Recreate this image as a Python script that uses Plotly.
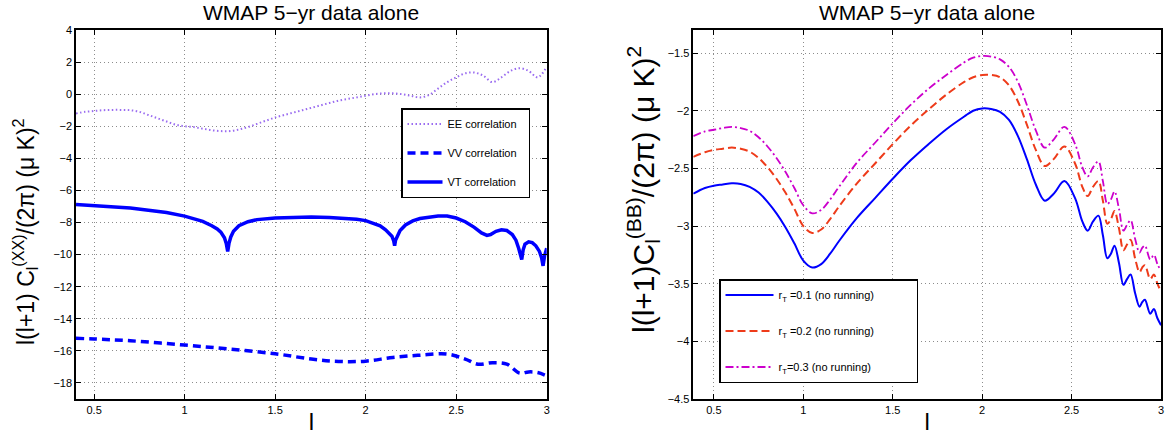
import plotly.graph_objects as go

# ---------------- data: left panel ----------------
ee_x = [0.40, 0.45, 0.5, 0.55, 0.6, 0.65, 0.7, 0.75, 0.8, 0.85, 0.9, 0.95, 1.0, 1.05, 1.1, 1.15,
        1.2, 1.25, 1.3, 1.35, 1.4, 1.45, 1.5, 1.55, 1.6, 1.65, 1.7, 1.75, 1.8, 1.85, 1.9, 1.95,
        2.0, 2.05, 2.1, 2.15, 2.2, 2.25, 2.3, 2.35, 2.4, 2.45, 2.5, 2.55, 2.6, 2.65, 2.7, 2.75,
        2.8, 2.85, 2.9, 2.95, 3.0]
ee_y = [-1.2, -1.1, -1.05, -1.0, -0.98, -0.98, -1.0, -1.1, -1.3, -1.5, -1.7, -1.9, -2.0, -2.05,
        -2.15, -2.25, -2.3, -2.3, -2.2, -2.05, -1.85, -1.65, -1.45, -1.3, -1.15, -1.0, -0.85, -0.7,
        -0.55, -0.4, -0.3, -0.2, -0.1, 0.0, 0.05, 0.05, 0.0, -0.1, -0.2, -0.05, 0.35, 0.75, 1.05,
        1.3, 1.35, 1.15, 0.75, 1.05, 1.45, 1.62, 1.45, 1.05, 1.7]

vv_x = [0.40, 0.5, 0.7, 1.0, 1.25, 1.5, 1.7, 1.85, 2.0, 2.15, 2.3, 2.45, 2.55, 2.62, 2.7, 2.78,
        2.85, 2.9, 2.95, 3.0]
vv_y = [-15.22, -15.26, -15.37, -15.64, -15.89, -16.18, -16.51, -16.66, -16.64, -16.41, -16.27,
        -16.2, -16.51, -16.83, -16.74, -16.83, -17.39, -17.31, -17.35, -17.56]

vt_x = [0.40, 0.5, 0.6, 0.7, 0.8, 0.9, 1.0, 1.05, 1.1, 1.15, 1.18, 1.2, 1.22, 1.23, 1.238, 1.245,
        1.255, 1.27, 1.3, 1.35, 1.4, 1.5, 1.6, 1.7, 1.8, 1.9, 1.95, 2.0, 2.05, 2.08, 2.11, 2.13,
        2.145, 2.155, 2.16, 2.165, 2.175, 2.19, 2.22, 2.26, 2.3, 2.35, 2.4, 2.45, 2.5, 2.55, 2.6,
        2.64, 2.67, 2.69, 2.72, 2.75, 2.78, 2.81, 2.83, 2.845, 2.855, 2.862, 2.87, 2.88, 2.9,
        2.92, 2.94, 2.96, 2.972, 2.98, 2.988, 3.0]
vt_y = [-6.87, -6.93, -7.0, -7.1, -7.24, -7.38, -7.6, -7.75, -7.93, -8.2, -8.4, -8.6, -8.95, -9.3,
        -9.8, -9.3, -8.9, -8.55, -8.2, -7.95, -7.82, -7.72, -7.67, -7.65, -7.68, -7.75, -7.8,
        -7.88, -8.05, -8.2, -8.45, -8.7, -8.85, -9.15, -9.45, -9.1, -8.8, -8.5, -8.15, -7.9,
        -7.75, -7.65, -7.6, -7.6, -7.72, -7.95, -8.3, -8.65, -8.8, -8.75, -8.55, -8.45, -8.5,
        -8.75, -9.1, -9.6, -10.1, -10.3, -9.7, -9.35, -9.2, -9.25, -9.45, -9.8, -10.2, -10.7,
        -10.1, -9.6]

# ---------------- data: right panel ----------------
bb_x = [0.385, 0.45, 0.5, 0.55, 0.6, 0.65, 0.7, 0.75, 0.8, 0.85, 0.9, 0.95, 1.0, 1.05, 1.1, 1.15,
        1.2, 1.3, 1.4, 1.5, 1.6, 1.7, 1.8, 1.9, 1.95, 2.0, 2.05, 2.1, 2.15, 2.2, 2.25, 2.3, 2.35,
        2.4, 2.46, 2.52, 2.56, 2.59, 2.62, 2.65, 2.675, 2.70, 2.72, 2.74, 2.765, 2.79, 2.81, 2.83,
        2.855, 2.88, 2.895, 2.91, 2.94, 2.96, 2.98, 3.0]
bb_r01 = [-2.72, -2.67, -2.65, -2.64, -2.63, -2.635, -2.66, -2.71, -2.79, -2.89, -3.01, -3.15,
          -3.30, -3.36, -3.33, -3.24, -3.13, -2.93, -2.76, -2.59, -2.43, -2.29, -2.16, -2.05,
          -2.0, -1.98, -1.985, -2.01, -2.08, -2.22, -2.42, -2.64, -2.78, -2.72, -2.61, -2.76,
          -2.96, -3.04, -2.96, -2.91, -3.08, -3.28, -3.24, -3.17, -3.32, -3.51, -3.46, -3.42,
          -3.58, -3.70, -3.66, -3.64, -3.76, -3.72, -3.80, -3.86]
bb_r02 = [-2.40, -2.36, -2.34, -2.33, -2.32, -2.33, -2.355, -2.41, -2.49, -2.59, -2.71, -2.85,
          -3.00, -3.06, -3.03, -2.94, -2.83, -2.63, -2.46, -2.29, -2.13, -1.99, -1.86, -1.75,
          -1.71, -1.69, -1.69, -1.71, -1.78, -1.92, -2.12, -2.34, -2.48, -2.42, -2.31, -2.46,
          -2.66, -2.74, -2.66, -2.61, -2.78, -2.98, -2.94, -2.87, -3.02, -3.21, -3.16, -3.12,
          -3.28, -3.40, -3.36, -3.34, -3.46, -3.42, -3.50, -3.57]
bb_r03 = [-2.22, -2.18, -2.165, -2.15, -2.14, -2.15, -2.175, -2.23, -2.31, -2.41, -2.53, -2.67,
          -2.82, -2.89, -2.86, -2.77, -2.66, -2.45, -2.28, -2.11, -1.95, -1.81, -1.69, -1.58,
          -1.54, -1.525, -1.53, -1.555, -1.62, -1.75, -1.95, -2.17, -2.32, -2.25, -2.14, -2.29,
          -2.49, -2.57, -2.49, -2.44, -2.61, -2.81, -2.77, -2.70, -2.85, -3.04, -2.99, -2.95,
          -3.11, -3.23, -3.19, -3.17, -3.29, -3.25, -3.33, -3.39]

x_ticks = [0.5, 1, 1.5, 2, 2.5, 3]
left_yticks = [-18, -16, -14, -12, -10, -8, -6, -4, -2, 0, 2, 4]
right_yticks = [-4.5, -4, -3.5, -3, -2.5, -2, -1.5]

FONT = "Liberation Sans, Arial, Helvetica, sans-serif"
NB = "\u00a0"

W, H = 1167, 435
PLOT_TOP, PLOT_BOT = 30, 399
MT = PLOT_TOP
MB = H - PLOT_BOT
PH = H - MT - MB


def px(p):
    return p / W


def py(p):
    return (H - MB - p) / PH


L0, L1 = 76, 546.7
R0, R1 = 693.3, 1161

fig = go.Figure()

fig.add_trace(go.Scatter(x=ee_x, y=ee_y, mode="lines", name="EE correlation" + NB * 2,
                         line=dict(color="#9a6cf0", width=2, dash="1.5px,2.5px", shape="spline"),
                         xaxis="x", yaxis="y", legend="legend", legendgroup="a"))
fig.add_trace(go.Scatter(x=vv_x, y=vv_y, mode="lines", name="VV correlation" + NB * 2,
                         line=dict(color="#0000ff", width=3.5, dash="8px,5px", shape="spline"),
                         xaxis="x", yaxis="y", legend="legend", legendgroup="b"))
fig.add_trace(go.Scatter(x=vt_x, y=vt_y, mode="lines", name="VT correlation" + NB * 2,
                         line=dict(color="#0000ff", width=3.5),
                         xaxis="x", yaxis="y", legend="legend", legendgroup="c"))

fig.add_trace(go.Scatter(x=bb_x, y=bb_r01, mode="lines",
                         name="r<sub>T</sub> =0.1 (no running)" + NB * 12,
                         line=dict(color="#0000ff", width=2, shape="spline"),
                         xaxis="x2", yaxis="y2", legend="legend2", legendgroup="d"))
fig.add_trace(go.Scatter(x=bb_x, y=bb_r02, mode="lines",
                         name="r<sub>T</sub> =0.2 (no running)" + NB * 12,
                         line=dict(color="#ee3b1a", width=2, dash="8px,4px", shape="spline"),
                         xaxis="x2", yaxis="y2", legend="legend2", legendgroup="e"))
fig.add_trace(go.Scatter(x=bb_x, y=bb_r03, mode="lines",
                         name="r<sub>T</sub>=0.3 (no running)" + NB * 12,
                         line=dict(color="#cc00cc", width=1.8, dash="8px,3px,2px,3px", shape="spline"),
                         xaxis="x2", yaxis="y2", legend="legend2", legendgroup="f"))

axis_common = dict(showline=True, linecolor="black", linewidth=1.5, mirror="allticks",
                   ticks="inside", ticklen=5, tickcolor="black", showgrid=True,
                   gridcolor="#8c8c8c", griddash="1px,3px", gridwidth=1, zeroline=False,
                   automargin=False,
                   tickfont=dict(family=FONT, size=11, color="black"))

fig.update_layout(
    width=W, height=H,
    margin=dict(l=0, r=0, t=MT, b=MB, autoexpand=False),
    paper_bgcolor="white", plot_bgcolor="white",
    font=dict(family=FONT, color="black"),
    showlegend=True,
    xaxis=dict(domain=[px(L0), px(L1)], range=[0.4, 3], tickvals=x_ticks,
               ticktext=[str(v) for v in x_ticks], anchor="y",
               title=dict(text="l", font=dict(size=24), standoff=2), **axis_common),
    yaxis=dict(domain=[0, 1], range=[-19, 4], tickvals=left_yticks, anchor="x",
               **axis_common),
    xaxis2=dict(domain=[px(R0), px(R1)], range=[0.385, 3], tickvals=x_ticks,
                ticktext=[str(v) for v in x_ticks], anchor="y2",
                title=dict(text="l", font=dict(size=24), standoff=2), **axis_common),
    yaxis2=dict(domain=[0, 1], range=[-4.5, -1.3], tickvals=right_yticks, anchor="x2",
                **axis_common),
    legend=dict(x=px(401), y=py(108), xanchor="left", yanchor="top",
                bgcolor="white", bordercolor="black", borderwidth=1.5,
                font=dict(family=FONT, size=11, color="black"), tracegroupgap=10,
                itemwidth=35),
    legend2=dict(x=px(719), y=py(279), xanchor="left", yanchor="top",
                 bgcolor="white", bordercolor="black", borderwidth=1.5,
                 font=dict(family=FONT, size=11, color="black"), tracegroupgap=17,
                 itemwidth=48),
    annotations=[
        dict(text="WMAP 5\u2212yr data alone", x=px((L0 + L1) / 2), y=py(12.5),
             xref="paper", yref="paper", showarrow=False, xanchor="center", yanchor="middle",
             font=dict(family=FONT, size=21, color="black")),
        dict(text="WMAP 5\u2212yr data alone", x=px((R0 + R1) / 2), y=py(12.5),
             xref="paper", yref="paper", showarrow=False, xanchor="center", yanchor="middle",
             font=dict(family=FONT, size=21, color="black")),
        dict(text="l(l+1) C<sub>l</sub><sup>(XX)</sup>/(2π) (μ K)<sup>2</sup>",
             x=px(25), y=py(232), xref="paper", yref="paper", showarrow=False,
             textangle=-90, xanchor="center", yanchor="middle",
             font=dict(family=FONT, size=23, color="black")),
        dict(text="l(l+1)C<sub>l</sub><sup>(BB)</sup>/(2π) (μ K)<sup>2</sup>",
             x=px(643), y=py(190), xref="paper", yref="paper", showarrow=False,
             textangle=-90, xanchor="center", yanchor="middle",
             font=dict(family=FONT, size=30, color="black")),
    ],
)

# the page body has a default 8px margin; remove it so the figure fills the window
fig.write_html("out.html", config={"displayModeBar": False},
               post_script="document.body.style.margin='0px';")
